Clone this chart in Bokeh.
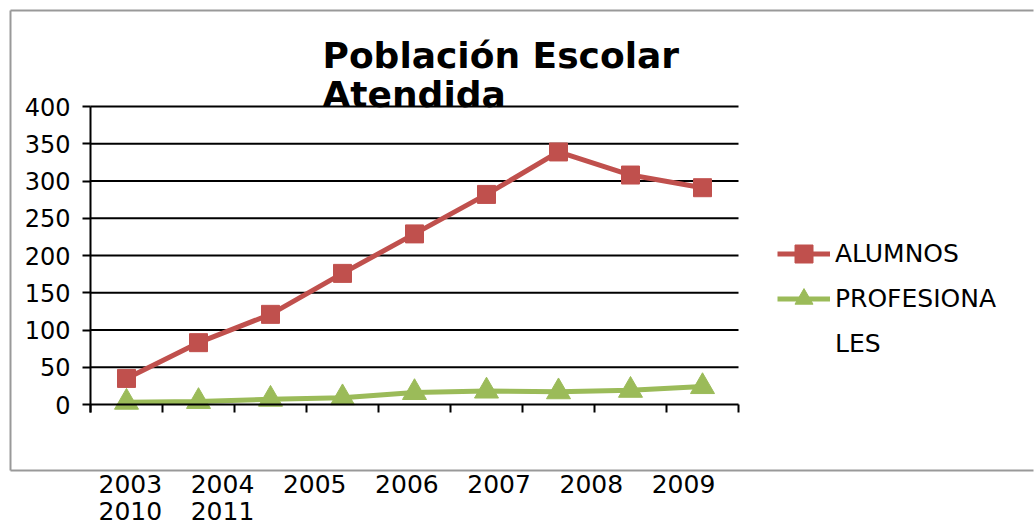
from bokeh.plotting import figure
from bokeh.models import Range1d, FixedTicker, Label, Legend, LegendItem
from bokeh.embed import file_html
from bokeh.resources import INLINE

# ---- data ----
years = ["2003", "2004", "2005", "2006", "2007", "2008", "2009", "2010", "2011"]
alumnos = [35, 83, 121, 176, 229, 282, 339, 308, 291]
profesionales = [3, 4, 7, 9, 16, 18, 17, 19, 24]
y_ticks = [0, 50, 100, 150, 200, 250, 300, 350, 400]
title_lines = ["Población Escolar", "Atendida"]
series_names = ["ALUMNOS", "PROFESIONA", "LES"]

RED = "#C0504D"
GREEN = "#9BBB59"
FONT = "DejaVu Sans"

# ---- geometry (canvas pixels) ----
W, H = 1034, 526
AX_L, AX_R = 90, 738          # x of category axis ends
Y0_PIX, Y400_PIX = 404, 106   # y of value 0 and 400
n = len(years)
px_per_x = (AX_R - AX_L) / n
px_per_y = (Y0_PIX - Y400_PIX) / 400.0
BASE_SHIFT = 0.44             # rendered baseline offset (em) to compensate

def dx(px):
    return (px - AX_L) / px_per_x

def dy(py):
    return (Y0_PIX - py) / px_per_y

def base(py, fs):
    return dy(py - BASE_SHIFT * fs)

xs = [i + 0.5 for i in range(n)]

p = figure(
    width=W, height=H,
    x_range=Range1d(dx(0), dx(W)), y_range=Range1d(dy(H), dy(0)),
    output_backend="svg", toolbar_location=None,
    min_border=0, min_border_left=0, min_border_right=0,
    min_border_top=0, min_border_bottom=0,
    background_fill_color="white", border_fill_color="white",
)
p.outline_line_color = None
p.xgrid.visible = False
p.ygrid.visible = False

# chart-area border: three separate open strokes (right edge lies outside the picture)
for bx, by in (([10, 10], [10, 470]), ([10, W - 1], [10, 10]), ([10, W - 1], [470, 470])):
    p.line([dx(v) for v in bx], [dy(v) for v in by], line_color="#999999", line_width=2)

# horizontal gridlines across the category span
p.segment(x0=[0] * (len(y_ticks) - 1), x1=[n] * (len(y_ticks) - 1),
          y0=y_ticks[1:], y1=y_ticks[1:], line_color="black", line_width=2)

# y axis fixed at x = 0
p.yaxis.fixed_location = 0
p.yaxis.ticker = FixedTicker(ticks=y_ticks)
p.yaxis.bounds = (dy(412), 400)
p.yaxis.axis_line_color = "black"
p.yaxis.axis_line_width = 2
p.yaxis.major_tick_line_color = "black"
p.yaxis.major_tick_line_width = 2
p.yaxis.major_tick_out = 8
p.yaxis.major_tick_in = 0
p.yaxis.minor_tick_line_color = None
p.yaxis.major_label_standoff = 12
p.yaxis.major_label_text_font = FONT
p.yaxis.major_label_text_font_size = "24px"
p.yaxis.major_label_text_color = "black"

# x axis fixed at y = 0 with ticks at category boundaries
p.xaxis.fixed_location = 0
p.xaxis.ticker = FixedTicker(ticks=list(range(n + 1)))
p.xaxis.bounds = (0, n)
p.xaxis.axis_line_color = "black"
p.xaxis.axis_line_width = 2
p.xaxis.major_tick_line_color = "black"
p.xaxis.major_tick_line_width = 2
p.xaxis.major_tick_out = 8
p.xaxis.major_tick_in = 0
p.xaxis.minor_tick_line_color = None
p.xaxis.major_label_text_font_size = "0px"
p.xaxis.major_label_text_alpha = 0

# series
l1 = p.line(xs, alumnos, line_color=RED, line_width=5)
s1 = p.scatter(xs, alumnos, marker="square", size=18, fill_color=RED, line_color=RED)
l2 = p.line(xs, profesionales, line_color=GREEN, line_width=5)
s2 = p.scatter(xs, profesionales, marker="triangle", size=24, fill_color=GREEN, line_color=GREEN)
dummy = p.line(x=[], y=[], line_alpha=0)

legend = Legend(
    items=[
        LegendItem(label=series_names[0], renderers=[l1, s1]),
        LegendItem(label=series_names[1], renderers=[l2, s2]),
        LegendItem(label=series_names[2], renderers=[dummy]),
    ],
    location=(777, H - 366),
    orientation="vertical",
    glyph_width=53, glyph_height=45, label_height=45, spacing=0,
    padding=0, margin=0, label_standoff=5,
    label_text_font=FONT, label_text_font_size="25px", label_text_color="black",
    border_line_color=None, background_fill_alpha=0,
)
p.add_layout(legend, "center")

# title
for i, t in enumerate(title_lines):
    p.add_layout(Label(x=dx(322), y=base(71 + 39 * i, 36), text=t, text_font=FONT,
                       text_font_style="bold", text_font_size="36px",
                       text_color="black", text_baseline="alphabetic"))

# x labels (wrapped block under the chart)
for i, yr in enumerate(years):
    row, col = divmod(i, 7)
    p.add_layout(Label(x=dx(98 + 92.2 * col), y=base(494 + 27 * row, 25), text=yr,
                       text_font=FONT, text_font_size="25px", text_color="black",
                       text_baseline="alphabetic"))

open("out.html", "w").write(file_html(p, INLINE))
